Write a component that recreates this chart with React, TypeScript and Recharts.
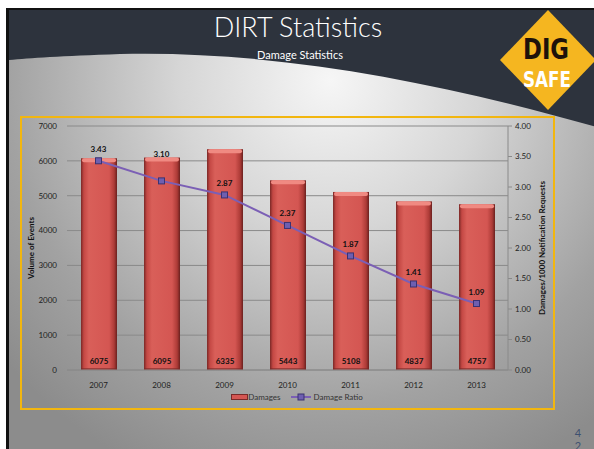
import React from 'react';
import { ComposedChart, Bar, Line, XAxis, YAxis, CartesianGrid, LabelList, Legend } from 'recharts';

const years = ['2007', '2008', '2009', '2010', '2011', '2012', '2013'];
const damages = [6075, 6095, 6335, 5443, 5108, 4837, 4757];
const damageRatio = [3.43, 3.10, 2.87, 2.37, 1.87, 1.41, 1.09];
const leftTicks = [0, 1000, 2000, 3000, 4000, 5000, 6000, 7000];
const rightTicks = [0, 0.5, 1, 1.5, 2, 2.5, 3, 3.5, 4];

const data = years.map((y, i) => ({ year: y, damages: damages[i], ratio: damageRatio[i] }));

const FONT = 'Lato, "Open Sans", sans-serif';

const BarShape = (props: any) => {
  const { x, y, width, height } = props;
  if (height <= 0) return null;
  return (
    <g>
      <rect x={x} y={y} width={width} height={height} fill="url(#barGrad)" />
      <rect x={x + 1} y={y} width={width - 2} height={4} rx={2} fill="#f08a82" />
      <rect x={x} y={y + height - 2} width={width} height={2} fill="#7a2a28" opacity={0.6} />
    </g>
  );
};

const SquareDot = (props: any) => {
  const { cx, cy } = props;
  if (cx == null || cy == null) return null;
  return <rect x={cx - 3} y={cy - 3} width={6} height={6} fill="#6e5fb0" stroke="#3a3272" strokeWidth={1} />;
};

const BarValueLabel = (props: any) => {
  const { x, y, width, height, value } = props;
  return (
    <text x={x + width / 2} y={y + height - 6} textAnchor="middle" fontSize={8} fontWeight={700} fill="#111" fontFamily={FONT}>
      {value}
    </text>
  );
};

const RatioLabel = (props: any) => {
  const { x, y, value, index } = props;
  const off = index === 1 ? 24 : 9;
  return (
    <text x={x} y={y - off} textAnchor="middle" fontSize={8} fontWeight={700} fill="#111" fontFamily={FONT}>
      {Number(value).toFixed(2)}
    </text>
  );
};

const LegendContent = () => (
  <div style={{ display: 'flex', justifyContent: 'center', alignItems: 'center', fontSize: 8, color: '#333', fontFamily: FONT, height: 14 }}>
    <svg width={17} height={8}>
      <rect x={0.5} y={1.5} width={16} height={5} fill="#d45652" stroke="#7a2a28" strokeWidth={1} />
    </svg>
    <span style={{ marginRight: 10 }}>Damages</span>
    <svg width={20} height={8}>
      <line x1={0} y1={4} x2={20} y2={4} stroke="#7b5fb5" strokeWidth={2} />
      <rect x={7} y={1} width={6} height={6} fill="#6e5fb0" stroke="#3a3272" strokeWidth={1} />
    </svg>
    <span style={{ marginLeft: 3 }}>Damage Ratio</span>
  </div>
);

export default function App() {
  return (
    <div style={{ position: 'absolute', left: 0, top: 0, width: 594, height: 449, overflow: 'hidden', background: '#fff' }}>
      <svg width={594} height={449} style={{ position: 'absolute', left: 0, top: 0 }}>
        <defs>
          <radialGradient id="bgGrad" gradientUnits="userSpaceOnUse" cx={330} cy={80} r={430}>
            <stop offset="0%" stopColor="#f6f6f6" />
            <stop offset="35%" stopColor="#d6d6d6" />
            <stop offset="75%" stopColor="#a2a2a2" />
            <stop offset="100%" stopColor="#8c8c8c" />
          </radialGradient>
        </defs>
        <rect x={6} y={8} width={600} height={460} fill="#111" />
        <rect x={9} y={10} width={600} height={460} fill="url(#bgGrad)" />
        <path d="M9,10 L600,10 L600,128 C 450,85 280,50 120,54 C 60,56 30,58 9,60 Z" fill="#2d333d" />
        <text x={298} y={37} textAnchor="middle" fontSize={27} fill="#fff" fontFamily={FONT} fontWeight={300}>DIRT Statistics</text>
        <text x={300} y={59} textAnchor="middle" fontSize={11} fill="#fff" fontFamily={FONT}>Damage Statistics</text>
        <polygon points="548,10 596,60 548,110 500,60" fill="#f5b620" />
        <text x={546} y={59} textAnchor="middle" fontSize={29} fontWeight={700} fill="#1e120a" fontFamily='"DejaVu Sans Condensed", sans-serif' textLength={46} lengthAdjust="spacingAndGlyphs">DIG</text>
        <text x={547} y={87} textAnchor="middle" fontSize={22} fontWeight={700} fill="#fff" fontFamily='"DejaVu Sans Condensed", sans-serif' textLength={48} lengthAdjust="spacingAndGlyphs">SAFE</text>
        <rect x={21} y={117} width={533} height={292} fill="none" stroke="#f2b60f" strokeWidth={2} />
        <text x={578} y={437} textAnchor="middle" fontSize={11} fill="#3e5070" fontFamily={FONT}>4</text>
        <text x={578} y={450} textAnchor="middle" fontSize={11} fill="#3e5070" fontFamily={FONT}>2</text>
      </svg>
      <div style={{ position: 'absolute', left: 0, top: 0 }}>
        <ComposedChart width={594} height={449} data={data} margin={{ top: 126, right: 56, bottom: 35, left: 27 }}>
          <defs>
            <linearGradient id="barGrad" x1="0" y1="0" x2="1" y2="0">
              <stop offset="0%" stopColor="#7a2826" />
              <stop offset="8%" stopColor="#c44844" />
              <stop offset="22%" stopColor="#d95f59" />
              <stop offset="78%" stopColor="#d45652" />
              <stop offset="92%" stopColor="#ad3b37" />
              <stop offset="100%" stopColor="#6a201e" />
            </linearGradient>
          </defs>
          <CartesianGrid yAxisId="left" vertical={false} stroke="#8a8a8a" strokeWidth={1} />
          <XAxis dataKey="year" tick={{ fontSize: 8, fill: '#222', fontFamily: FONT }} tickLine={false} axisLine={{ stroke: '#8a8a8a' }} height={30} tickMargin={6} />
          <YAxis yAxisId="left" domain={[0, 7000]} ticks={leftTicks} width={40} axisLine={false} tickLine={false}
            tick={{ fontSize: 8, fill: '#222', fontFamily: FONT }} tickMargin={4}
            label={{ value: 'Volume of Events', angle: -90, position: 'insideLeft', offset: 4, style: { fontSize: 8, fontWeight: 700, fill: '#111', fontFamily: FONT, textAnchor: 'middle' } }} />
          <YAxis yAxisId="right" orientation="right" domain={[0, 4]} ticks={rightTicks} width={30}
            axisLine={{ stroke: '#8a8a8a' }} tickLine={{ stroke: '#8a8a8a' }} tickSize={4} tickMargin={3}
            tickFormatter={(v: number) => v.toFixed(2)} tick={{ fontSize: 8, fill: '#222', fontFamily: FONT }}
            label={{ value: 'Damages/1000 Notification Requests', angle: -90, position: 'right', offset: 4, style: { fontSize: 8, fontWeight: 700, fill: '#111', fontFamily: FONT, textAnchor: 'middle' } }} />
          <Bar yAxisId="left" dataKey="damages" name="Damages" barSize={36} shape={<BarShape />} isAnimationActive={false}>
            <LabelList dataKey="damages" content={<BarValueLabel />} />
          </Bar>
          <Line yAxisId="right" dataKey="ratio" name="Damage Ratio" stroke="#7b5fb5" strokeWidth={2} dot={<SquareDot />} activeDot={false} isAnimationActive={false}>
            <LabelList dataKey="ratio" content={<RatioLabel />} />
          </Line>
          <Legend content={<LegendContent />} wrapperStyle={{ top: 390, left: 0, width: 594 }} />
        </ComposedChart>
      </div>
    </div>
  );
}
